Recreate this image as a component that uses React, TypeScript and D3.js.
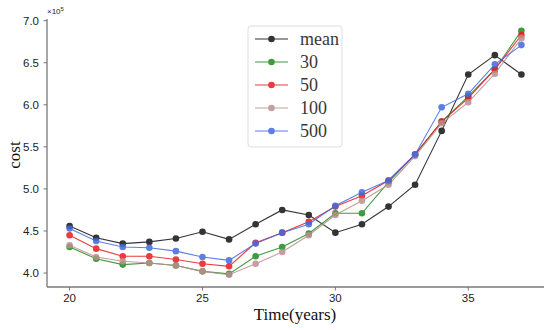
import React from 'react';
import * as d3 from 'd3';

// years on the x axis
const years = d3.range(20, 38);

// cost in units of 1e5
const meanCost = [4.56, 4.42, 4.35, 4.37, 4.41, 4.49, 4.40, 4.58, 4.75, 4.69, 4.48, 4.58, 4.79, 5.05, 5.69, 6.36, 6.59, 6.36];
const cost30 = [4.31, 4.17, 4.10, 4.12, 4.09, 4.02, 3.99, 4.20, 4.31, 4.47, 4.71, 4.71, 5.08, 5.41, 5.80, 6.10, 6.42, 6.88];
const cost50 = [4.45, 4.29, 4.20, 4.20, 4.16, 4.11, 4.08, 4.36, 4.48, 4.61, 4.79, 4.92, 5.10, 5.41, 5.80, 6.08, 6.42, 6.83];
const cost100 = [4.33, 4.19, 4.14, 4.12, 4.09, 4.02, 3.98, 4.11, 4.25, 4.45, 4.69, 4.86, 5.05, 5.39, 5.78, 6.03, 6.37, 6.79];
const cost500 = [4.53, 4.38, 4.31, 4.30, 4.26, 4.19, 4.15, 4.35, 4.48, 4.58, 4.80, 4.96, 5.10, 5.41, 5.97, 6.13, 6.48, 6.71];

const seriesNames = ['mean', '30', '50', '100', '500'];
const seriesColors = ['#111111', '#1f8a1f', '#e8191e', '#bc8f8f', '#4169e1'];

const xTicks = [20, 25, 30, 35];
const yTicks = [4.0, 4.5, 5.0, 5.5, 6.0, 6.5, 7.0];

export default function App() {
  const width = 550, height = 330;
  const margin = { top: 19, right: 6, bottom: 43, left: 47 };

  const x = d3.scaleLinear().domain([19.15, 37.85]).range([margin.left, width - margin.right]);
  const y = d3.scaleLinear().domain([3.834, 7.02]).range([height - margin.bottom, margin.top]);

  const allSeries = [meanCost, cost30, cost50, cost100, cost500];

  const line = d3.line<number>()
    .x((d, i) => x(years[i]))
    .y(d => y(d));

  const sans = '"Liberation Sans", Arial, sans-serif';
  const serif = '"Liberation Serif", "Times New Roman", serif';
  const axisColor = '#777';
  const x0 = x.range()[0], x1 = x.range()[1];
  const yb = y.range()[0], yt = y.range()[1];

  return (
    <svg width={width} height={height} style={{ position: 'absolute', left: 0, top: 0, background: '#fff' }}>
      {/* series */}
      {allSeries.map((vals, s) => (
        <g key={s} opacity={0.85}>
          <path d={line(vals) || ''} fill="none" stroke={seriesColors[s]} strokeWidth={1.1} />
          {vals.map((v, i) => (
            <circle key={i} cx={x(years[i])} cy={y(v)} r={3.3} fill={seriesColors[s]} />
          ))}
        </g>
      ))}

      {/* axes */}
      <line x1={x0} x2={x0} y1={yt} y2={yb} stroke={axisColor} strokeWidth={1.3} />
      <line x1={x0} x2={x1} y1={yb} y2={yb} stroke={axisColor} strokeWidth={1.3} />
      {yTicks.map(t => (
        <g key={t}>
          <line x1={x0 - 3.5} x2={x0} y1={y(t)} y2={y(t)} stroke={axisColor} strokeWidth={1} />
          <text x={x0 - 8} y={y(t)} dy="0.35em" textAnchor="end" fontFamily={sans} fontSize={11.5} fill="#222">
            {t.toFixed(1)}
          </text>
        </g>
      ))}
      {xTicks.map(t => (
        <g key={t}>
          <line x1={x(t)} x2={x(t)} y1={yb} y2={yb + 3.5} stroke={axisColor} strokeWidth={1} />
          <text x={x(t)} y={yb + 15} textAnchor="middle" fontFamily={sans} fontSize={11.5} fill="#222">
            {t}
          </text>
        </g>
      ))}
      <text x={x0} y={14} fontFamily={sans} fontSize={8} fill="#222">
        ×10<tspan dy={-3} fontSize={6}>5</tspan>
      </text>

      {/* axis labels */}
      <text x={295} y={320} textAnchor="middle" fontFamily={serif} fontSize={17} fill="#111">Time(years)</text>
      <text transform={`translate(20,155) rotate(-90)`} textAnchor="middle" fontFamily={serif} fontSize={17} fill="#111">cost</text>

      {/* legend */}
      <g>
        <rect x={248} y={26} width={94} height={121} rx={3} fill="#fff" fillOpacity={0.85} stroke="#ddd" strokeWidth={1} />
        {seriesNames.map((name, i) => {
          const ly = 39 + i * 23;
          return (
            <g key={name} opacity={0.85}>
              <line x1={255} x2={288} y1={ly} y2={ly} stroke={seriesColors[i]} strokeWidth={1.1} />
              <circle cx={271.5} cy={ly} r={3.3} fill={seriesColors[i]} />
              <text x={300} y={ly} dy="0.35em" fontFamily={serif} fontSize={18} fill="#111">{name}</text>
            </g>
          );
        })}
      </g>
    </svg>
  );
}
